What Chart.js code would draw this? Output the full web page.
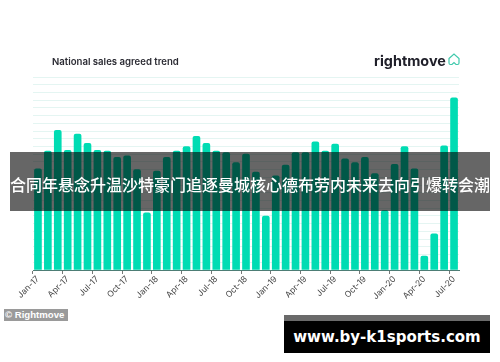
<!DOCTYPE html>
<html>
<head>
<meta charset="utf-8">
<script src="https://cdn.jsdelivr.net/npm/chart.js@4"></script>
<style>
  html, body { margin: 0; padding: 0; background: #fff; }
  #wrap { position: relative; width: 500px; height: 362px; overflow: hidden; }
  #wrap div { position: absolute; white-space: nowrap; }
  #title { left: 52px; top: 55px; font: 600 9.6px/14px Inter, sans-serif; color: #2b2b33; }
  #logo { left: 374px; top: 52px; font: 700 14.4px/18px Inter, sans-serif; color: #20202a; }
  #house { position: absolute; left: 448px; top: 53px; }
  #banner { left: 10px; top: 152px; width: 480px; height: 59px; background: rgba(0,0,0,.6);
    color: #fff; font: 500 16px/64px "Noto Sans CJK SC", sans-serif; text-align: center; }
  #badge { left: 4px; top: 309px; width: 64px; height: 12px; background: #9a9a9a;
    color: #fff; font: bold 9.6px/12px "Liberation Sans", sans-serif; text-indent: 1px; }
  #site { left: 284px; top: 315px; width: 206px; height: 38px; background: #000;
    border-top: 6px solid #6a6a6a; box-sizing: border-box;
    color: #fff; font: bold 15px/32px "DejaVu Sans", sans-serif; text-align: center; }
</style>
</head>
<body>
<div id="wrap">
  <canvas id="myChart" width="500" height="362"></canvas>
  <div id="title">National sales agreed trend</div>
  <div id="logo">rightmove</div>
  <svg id="house" width="12" height="13" viewBox="0 0 12 13">
    <path d="M1 5.5 L6 1 L11 5.5 V10 Q11 11.5 9.5 11.5 H8 L6 9.5 L4 11.5 H2.5 Q1 11.5 1 10 Z" fill="none" stroke="#3fc9ac" stroke-width="1.2"/>
  </svg>
  <div id="banner">合同年悬念升温沙特豪门追逐曼城核心德布劳内未来去向引爆转会潮</div>
  <div id="badge">© Rightmove</div>
  <div id="site">www.by-k1sports.com</div>
</div>
<script>
const months = [
  "Jan-17","Feb-17","Mar-17","Apr-17","May-17","Jun-17","Jul-17","Aug-17","Sep-17","Oct-17","Nov-17","Dec-17",
  "Jan-18","Feb-18","Mar-18","Apr-18","May-18","Jun-18","Jul-18","Aug-18","Sep-18","Oct-18","Nov-18","Dec-18",
  "Jan-19","Feb-19","Mar-19","Apr-19","May-19","Jun-19","Jul-19","Aug-19","Sep-19","Oct-19","Nov-19","Dec-19",
  "Jan-20","Feb-20","Mar-20","Apr-20","May-20","Jun-20","Jul-20"
];
const salesAgreed = [
  131, 154, 181, 155, 176, 164, 155, 154, 146, 148, 130, 74,
  128, 146, 154, 160, 173, 164, 154, 152, 139, 150, 127, 70,
  122, 136, 152, 152, 166, 154, 163, 144, 139, 146, 125, 77,
  137, 160, 131, 18, 47, 161, 223
];
const barColor = "#00dcb3";
const gridColor = "#e4f5f2";

var ctx = document.getElementById("myChart").getContext("2d");
const myChart = new Chart(ctx, {
  type: "bar",
  data: {
    labels: months,
    datasets: [{
      data: salesAgreed,
      backgroundColor: barColor,
      barThickness: 7,
      borderRadius: { topLeft: 2, topRight: 2 },
      borderSkipped: "bottom"
    }]
  },
  options: {
    responsive: false,
    animation: false,
    layout: { padding: { left: 33, right: 41, top: 77, bottom: 30 } },
    plugins: { legend: { display: false }, tooltip: { enabled: false } },
    scales: {
      x: {
        offset: true,
        afterFit: function (scale) { scale.height = 62; },
        border: { color: "#4d7d75", width: 1 },
        grid: {
          offset: true,
          drawOnChartArea: false,
          tickLength: 4,
          tickColor: (c) => (c.index % 3 === 0 ? "#777" : "transparent")
        },
        ticks: {
          autoSkip: false,
          minRotation: 45,
          maxRotation: 45,
          padding: 0,
          color: "#444",
          font: { family: "Inter, sans-serif", size: 8.5 },
          callback: function (value, index) { return index % 3 === 0 ? months[index] : ""; }
        }
      },
      y: {
        min: 0,
        max: 250,
        border: { display: false },
        grid: { color: gridColor, drawTicks: false },
        ticks: { display: false, stepSize: 10 }
      }
    }
  }
});
</script>
</body>
</html>
